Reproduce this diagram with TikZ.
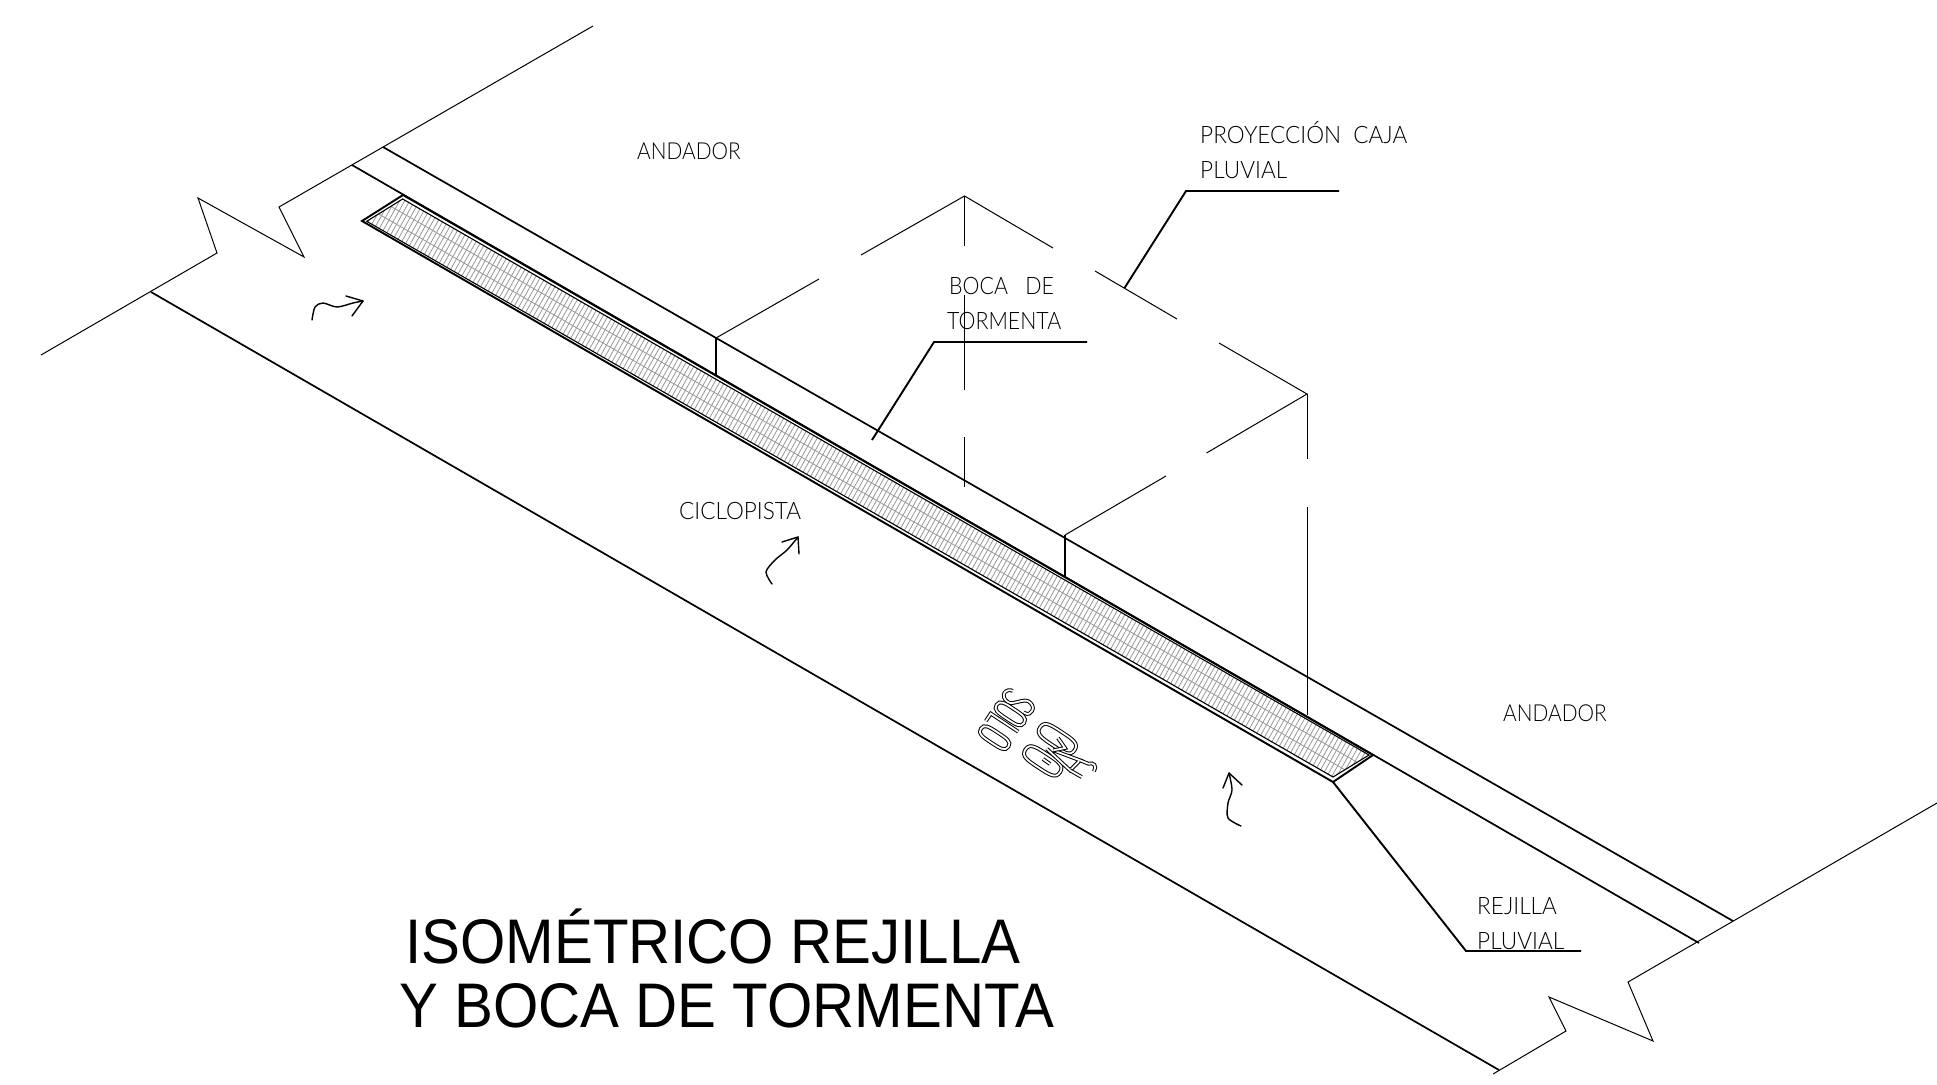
\documentclass[tikz,border=0pt]{standalone}
\usepackage{fontspec}
\setmainfont[FakeStretch=.925]{Liberation Sans}
\newfontfamily\cadfont{Lato}[UprightFont=* Light,FakeStretch=.94]
\newfontfamily\cadnarrow{Lato}[UprightFont=* Light,FakeStretch=.89]
\usetikzlibrary{calc}

\newcommand{\soloO}[1]{(#1,33) .. controls (#1+6,33) and (#1+6,27) .. (#1+6,16.5) .. controls (#1+6,6) and (#1+6,0) .. (#1,0) .. controls (#1-6,0) and (#1-6,6) .. (#1-6,16.5) .. controls (#1-6,27) and (#1-6,33) .. (#1,33) -- cycle}

\begin{document}
\begin{tikzpicture}
	[x=1pt,y=-1pt,
	road/.style ={draw, line width=1.7pt},
	fine/.style ={draw, line width=1pt},
	leader/.style ={draw, line width=1.9pt},
	grate/.style ={draw, line width=1.9pt, line join=miter},
	hatch/.style ={draw=black!40, line width=.8pt},
	paint/.style ={draw, line width=1pt, double, double distance=1.8pt},
	freehand/.style ={draw, line width=1.4pt, line cap=round, line join=round},
	txt/.style ={anchor=base west, inner sep=0pt, font=\cadfont\fontsize{24}{24}\selectfont},
	txtnarrow/.style ={txt, font=\cadnarrow\fontsize{24}{24}\selectfont},
	titletxt/.style ={anchor=base west, inner sep=0pt, font=\fontsize{63}{63}\selectfont}]
	\useasboundingbox (0,0) rectangle (1937,1084);
	\fill[white] (0,0) rectangle (1937,1084);

	% ends of the street
	\draw[fine] (41,355) -- (217,253) -- (198,198) -- (304,257) -- (279,207) -- (593,26);
	\draw[fine] (1493,1074) -- (1566,1031) -- (1549,997) -- (1653,1041) -- (1628,982) -- (1937,803);

	% edges
	\draw[road] (151,292) -- (1499,1070);
	\draw[road] (352,165) -- (1699,943);
	\draw[road] (383,147) -- (1733,921);
	\draw[road] (716,338) -- (716,375);
	\draw[road] (1065,535) -- (1065,577);

	% rejilla
	\begin{scope}
		\clip (366.7,221.3) -- (402.7,199) -- (1369,755) -- (1333,777) -- cycle;
		\foreach \i in {-8,...,262}
			\draw[hatch] ({384.7+3.75*\i},{210+2.157*\i}) ++(-28,50) -- ++(56,-100);
		\foreach \t in {.33,.67}
			\draw[hatch] ($(366.7,221.3)!\t!(402.7,199)$) -- ($(1333,777)!\t!(1369,755)$);
	\end{scope}
	\draw[grate] (362,221) -- (403,195) -- (1373,755) -- (1333,782) -- cycle;
	\draw[road, line width=1.1pt] (366.7,221.3) -- (402.7,199) -- (1369,755) -- (1333,777) -- cycle;

	% proyeccion caja
	\draw[fine] (716,338) -- (819,279);
	\draw[fine] (861,255) -- (964.5,196) -- (1053,248);
	\draw[fine] (1095,271) -- (1177,319);
	\draw[fine] (1219,343) -- (1307,394) -- (1206.5,453);
	\draw[fine] (1166,476) -- (1065,535);
	\draw[fine] (964.5,196) -- (964.5,246);
	\draw[fine] (964.5,295) -- (964.5,390);
	\draw[fine] (964.5,437) -- (964.5,487);
	\draw[fine] (1307,394) -- (1307,459);
	\draw[fine] (1307,507) -- (1307,715);

	% leaders
	\draw[leader] (1124.5,288) -- (1186,191) -- (1339,191);
	\draw[leader] (872,440) -- (934,342) -- (1087,342);
	\draw[leader] (1333,782) -- (1466,951) -- (1581,951);

	% arrows
	\draw[freehand] plot[smooth] coordinates {(312,320) (315,307) (323,303) (337,307) (353,303) (363,301)};
	\draw[freehand] (346,296) -- (363,301) -- (352,316);
	\draw[freehand] plot[smooth] coordinates {(772,584) (766,572) (775,560) (787,550) (798,537)};
	\draw[freehand] (782,542) -- (798,537) -- (799,554);
	\draw[freehand] plot[smooth] coordinates {(1241,826) (1228,818) (1228,803) (1232,790) (1229,773)};
	\draw[freehand] (1223,788) -- (1229,773) -- (1242,785);

	% solo
	\begin{scope}[shift={(1004.5,692.7)},x={(-.55pt,-.835pt)},y={(.835pt,-.55pt)}]
		\draw[paint] (6,27) .. controls (6,33) and (2,33) .. (0,33) .. controls (-4,33) and (-6,29) .. (-6,25) .. controls (-6,19) and (6,14) .. (6,8) .. controls (6,3) and (3,0) .. (0,0) .. controls (-3,0) and (-6,3) .. (-6,6);
		\draw[paint] \soloO{14.5};
		\draw[paint] (25,33) -- (25,0) -- (34,0);
		\draw[paint] \soloO{43};
	\end{scope}

	% bici
	\begin{scope}[shift={(1040,727.3)},x={(-.73pt,-1.11pt)},y={(1.05pt,-.69pt)}]
		\draw[paint] \soloO{0};
		\draw[paint] \soloO{20};
	\end{scope}
	\draw[paint] (1046.7,748.7) -- (1070,770.3) -- (1080,760.3) -- (1053.3,750.3);
	\draw[paint] (1058,738) -- (1065,748) -- (1053.3,750.3);
	\draw[paint] (1043,759) -- (1050,764);
	\draw[paint] (1080,760.3) -- (1088.3,763.7) .. controls (1094,762) and (1097,766) .. (1094,771.3);
	\draw[paint] (1070,770.3) -- (1081.7,777);

	% labels
	\draw (637,159) node[txtnarrow, font=\cadnarrow\fontsize{23.4}{24}\selectfont] (andadora) {ANDADOR};
	\draw (1503,721) node[txtnarrow, font=\cadnarrow\fontsize{23.4}{24}\selectfont] (andadorb) {ANDADOR};
	\draw (1200,143) node[txt] (proyeccion) {PROYECCIÓN\ \ CAJA};
	\draw (1200,178) node[txt] (pluviala) {PLUVIAL};
	\draw (949,294) node[txtnarrow] (boca) {BOCA\ \ \ DE};
	\draw (947,329) node[txtnarrow] (tormenta) {TORMENTA};
	\draw (679,519) node[txt] (ciclopista) {CICLOPISTA};
	\draw (1477,914) node[txt] (rejilla) {REJILLA};
	\draw (1477,949) node[txt] (pluvialb) {PLUVIAL};
	\draw (405,963) node[titletxt] (titlea) {ISOMÉTRICO REJILLA};
	\draw (399,1027) node[titletxt] (titleb) {Y BOCA DE TORMENTA};
\end{tikzpicture}
\end{document}
